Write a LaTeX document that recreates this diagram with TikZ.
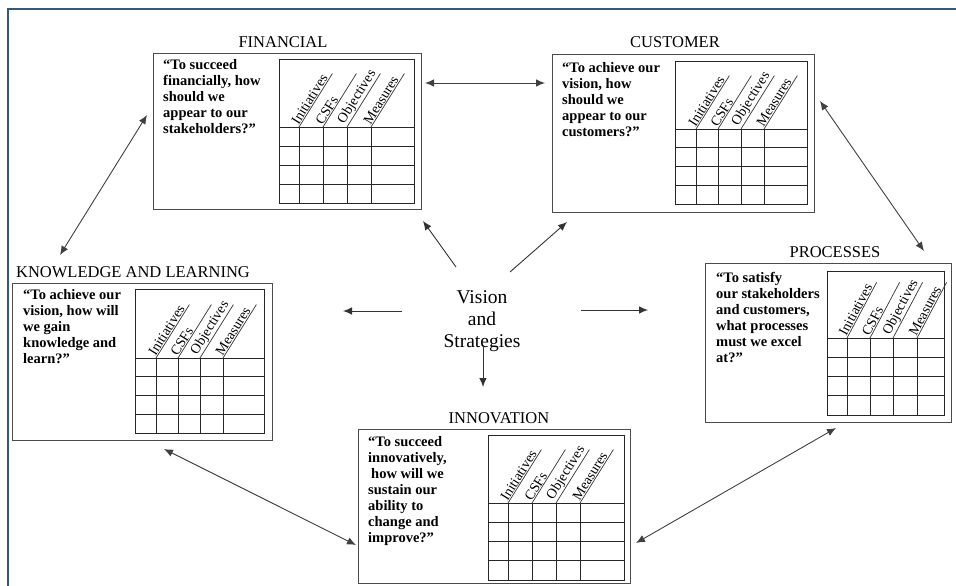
\documentclass[tikz,border=0pt]{standalone}
\usepackage{fontspec}
\setmainfont{Liberation Serif}
\usetikzlibrary{arrows.meta}

\definecolor{framecol}{RGB}{52,88,130}

\tikzset{
  panel/.style={draw=black!70, line width=1.3pt, inner sep=0pt, anchor=north west},
  ptitle/.style={font=\fontsize{16.5}{18}\selectfont, anchor=base, inner sep=0pt},
  question/.style={font=\fontsize{14.5}{16}\selectfont\bfseries, align=left, anchor=north west, inner sep=0pt},
  gridline/.style={draw=black!85, line width=0.9pt},
  slashline/.style={draw=black!80, line width=0.7pt},
  colhead/.style={font=\fontsize{14}{15}\selectfont, anchor=south west, inner sep=0.8pt},
  tip/.tip={Latex[length=9pt,width=7.5pt]},
  link/.style={draw=black!75, line width=0.9pt, tip-tip},
  ray/.style={draw=black!80, line width=0.9pt, -tip},
}

% slope of the column headings
\def\hangle{58}

% panel frame: name, left, top, right, bottom
\newcommand\perspective[5]{%
  \node[panel, minimum width={(#4-#2)*1pt}, minimum height={(#5-#3)*1pt}] (#1) at (#2,#3) {};
}

% scorecard grid: left, top, right, bottom, heading line, four column lines
\newcommand\scorecard[9]{%
  \draw[gridline] (#1,#2) rectangle (#3,#4);
  \draw[gridline] (#1,#5) -- (#3,#5);
  \foreach \k in {1,2,3}
    \draw[gridline] (#1,{#5+\k*(#4-#5)/4}) -- (#3,{#5+\k*(#4-#5)/4});
  \foreach \cx/\lab in {#6/Initiatives,#7/CSFs,#8/Objectives,#9/Measures} {
    \draw[gridline] (\cx,#5) -- (\cx,#4);
    \draw[slashline] (\cx,#5) -- ++({63*cos(\hangle)},{-63*sin(\hangle)});
    \node[colhead, rotate=\hangle] at (\cx,#5) {\lab};
  }
}

\begin{document}
\begin{tikzpicture}[x=1pt, y=-1pt]
\useasboundingbox (0,0) rectangle (956,586);

% outer frame
\draw[framecol, line width=2pt] (8,586) -- (8,9) -- (956,9);

% ---------- FINANCIAL ----------
\node[ptitle] (fin-t) at (283,48) {FINANCIAL};
\perspective{fin}{153}{53}{421}{209}
\node[question] (fin-q) at (163,59.5) {“To succeed\\financially, how\\should we\\appear to our\\stakeholders?”};
\scorecard{279}{59}{414}{203}{127}{299}{323}{347}{371}

% ---------- CUSTOMER ----------
\node[ptitle] (cus-t) at (675,48) {CUSTOMER};
\perspective{cus}{552}{54}{814}{212}
\node[question] (cus-q) at (562,62) {“To achieve our\\vision, how\\should we\\appear to our\\customers?”};
\scorecard{675}{61}{807}{204}{129}{696}{718}{741}{764}

% ---------- KNOWLEDGE AND LEARNING ----------
\node[ptitle] (kno-t) at (133,277) {KNOWLEDGE AND LEARNING};
\perspective{kno}{12}{283}{272}{440}
\node[question] (kno-q) at (23,289.5) {“To achieve our\\vision, how will\\we gain\\knowledge and\\learn?”};
\scorecard{135}{289}{264}{433}{358}{156}{178}{200}{223}

% ---------- PROCESSES ----------
\node[ptitle] (pro-t) at (835,257) {PROCESSES};
\perspective{pro}{705}{263}{951}{422}
\node[question] (pro-q) at (716,272.5) {“To satisfy\\our stakeholders\\and customers,\\what processes\\must we excel\\at?”};
\def\hangle{62}
\scorecard{827}{271}{944}{415}{338}{847}{870}{893}{917}
\def\hangle{58}

% ---------- INNOVATION ----------
\node[ptitle] (inn-t) at (499,423) {INNOVATION};
\perspective{inn}{358}{429}{630}{583}
\node[question] (inn-q) at (368,436.5) {“To succeed\\innovatively,\\\hspace{3pt}how will we\\sustain our\\ability to\\change and\\improve?”};
\scorecard{488}{435}{624}{580}{503}{508}{532}{556}{580}

% ---------- centre ----------
\node[font=\fontsize{19.5}{22}\selectfont, align=center, anchor=north, inner sep=0pt] (vision) at (482,290) {Vision\\and\\Strategies};

% arrow end points
\coordinate (fc-a) at (425,83);  \coordinate (fc-b) at (545,83);
\coordinate (fk-a) at (147,115); \coordinate (fk-b) at (60,255);
\coordinate (cp-a) at (820,101); \coordinate (cp-b) at (924,251);
\coordinate (ki-a) at (164,449); \coordinate (ki-b) at (356,545);
\coordinate (ip-a) at (636,543); \coordinate (ip-b) at (836,428);

\coordinate (v-ul) at (456,267); \coordinate (v-ul-e) at (423,221);
\coordinate (v-ur) at (510,272); \coordinate (v-ur-e) at (567,222);
\coordinate (v-l)  at (402,311); \coordinate (v-l-e)  at (343,311);
\coordinate (v-r)  at (581,310); \coordinate (v-r-e)  at (648,310);
\coordinate (v-d)  at (483,345); \coordinate (v-d-e)  at (483,387);

% links between perspectives
\draw[link] (fc-a) -- (fc-b);
\draw[link] (fk-a) -- (fk-b);
\draw[link] (cp-a) -- (cp-b);
\draw[link] (ki-a) -- (ki-b);
\draw[link] (ip-a) -- (ip-b);

% arrows from the centre
\draw[ray] (v-ul) -- (v-ul-e);
\draw[ray] (v-ur) -- (v-ur-e);
\draw[ray] (v-l) -- (v-l-e);
\draw[ray] (v-r) -- (v-r-e);
\draw[ray] (v-d) -- (v-d-e);
\end{tikzpicture}
\end{document}
